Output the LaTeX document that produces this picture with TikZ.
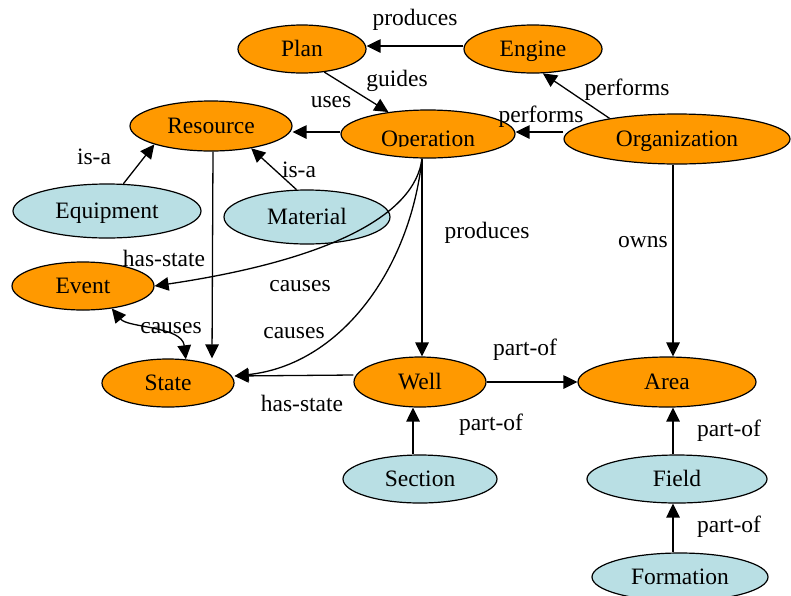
\documentclass[tikz,border=0pt]{standalone}
\usepackage{fontspec}
\setmainfont{Liberation Serif}
\newfontfamily\diagfont{Liberation Serif}
\usetikzlibrary{arrows.meta,shapes.geometric}
\definecolor{ornode}{RGB}{255,153,0}
\definecolor{bluenode}{RGB}{185,223,228}
\begin{document}
\begin{tikzpicture}[x=1pt,y=-1pt,
 every node/.style={font=\diagfont\fontsize{23.5}{28}\selectfont},
 ell/.style={ellipse, draw=black, line width=1.2pt, inner sep=0pt, text height=15.6pt, text depth=0pt},
 onode/.style={ell, fill=ornode},
 bnode/.style={ell, fill=bluenode},
 sz/.style 2 args={minimum width=#1pt, minimum height=#2pt},
 tip/.style={},
 conn/.style={line width=1.3pt, -{Triangle[length=14pt,width=13.5pt]}},
 lab/.style={anchor=base, inner sep=0pt}]
\useasboundingbox (0,0) rectangle (791,595);
% nodes
\node[onode, sz={128}{48}] (Plan) at (302,49) {Plan};
\node[onode, sz={138}{48}] (Engine) at (533,49) {Engine};
\node[onode, sz={162}{50}] (Resource) at (211,126) {Resource};
\node[onode, sz={174}{48}] (Operation) at (428,134) {};
\node[onode, sz={226}{50}] (Organization) at (677,139) {Organization};
\node[bnode, sz={188}{54}] (Equipment) at (107,211) {Equipment};
\node[bnode, sz={166}{54}] (Material) at (307,217) {Material};
\node[onode, sz={142}{48}] (Event) at (83,286) {Event};
\node[onode, sz={132}{48}] (State) at (168,383) {State};
\node[onode, sz={132}{50}] (Well) at (420,382) {Well};
\node[onode, sz={178}{50}] (Area) at (667,382) {Area};
\node[bnode, sz={154}{48}] (Section) at (420,479) {Section};
\node[bnode, sz={180}{48}] (Field) at (677,479) {Field};
\node[bnode, sz={176}{48}] (Formation) at (680,577) {Formation};
\begin{scope}
\clip (341,100) rectangle (516,146.8);
\node[lab] (OpText) at (428,146) {Operation};
\end{scope}
% connectors
\draw[conn] ([yshift=3pt]Engine.west) -- ([yshift=3pt]Plan.east);
\draw[conn] (Plan.-46) -- (Operation.151);
\draw[conn] (Organization.163) -- (Engine.-68);
\draw[conn] ([yshift=7pt]Organization.west) -- ([yshift=2pt]Operation.east);
\draw[conn] ([yshift=2pt]Operation.west) -- ([yshift=-6pt]Resource.east);
\draw[conn] (Equipment.59) -- (Resource.-162);
\draw[conn] (Material.111) -- (Resource.-29);
\draw[conn] ([xshift=2pt]Resource.south) -- ([xshift=44pt]State.north);
\draw[conn] ([xshift=-6pt]Operation.south) .. controls (415,215) and (330,260) .. (Event.east);
\draw[conn] ([xshift=-6pt]Operation.south) .. controls (410,270) and (340,365) .. ([yshift=7pt]State.east);
\draw[conn] ([xshift=-6pt]Operation.south) -- ([xshift=2pt]Well.north);
\draw[conn] ([yshift=7pt]Well.west) -- ([yshift=7pt]State.east);
\draw[conn, {Triangle[length=14pt,width=13.5pt]}-{Triangle[length=14pt,width=13.5pt]}] (Event.-38) .. controls (128,328) and (182,326) .. (State.53);
\draw[conn] (Well.east) -- (Area.west);
\draw[conn] ([xshift=-7pt]Section.north) -- ([xshift=-7pt]Well.south);
\draw[conn] ([xshift=-4pt]Organization.south) -- ([xshift=6pt]Area.north);
\draw[conn] ([xshift=-4pt]Field.north) -- ([xshift=6pt]Area.south);
\draw[conn] ([xshift=-7pt]Formation.north) -- ([xshift=-4pt]Field.south);
% labels
\node[lab] at (415,25) {produces};
\node[lab] at (397,86) {guides};
\node[lab] at (331,107) {uses};
\node[lab] at (627,95) {performs};
\node[lab] at (541,122) {performs};
\node[lab] at (94,164) {is-a};
\node[lab] at (299,177) {is-a};
\node[lab] at (164,266) {has-state};
\node[lab] at (300,291.5) {causes};
\node[lab] at (171,333) {causes};
\node[lab] at (294,338) {causes};
\node[lab] at (487,238) {produces};
\node[lab] at (643,247) {owns};
\node[lab] at (302,411) {has-state};
\node[lab] at (525,355) {part-of};
\node[lab] at (491,430) {part-of};
\node[lab] at (729,436) {part-of};
\node[lab] at (729,532.5) {part-of};
\end{tikzpicture}
\end{document}
